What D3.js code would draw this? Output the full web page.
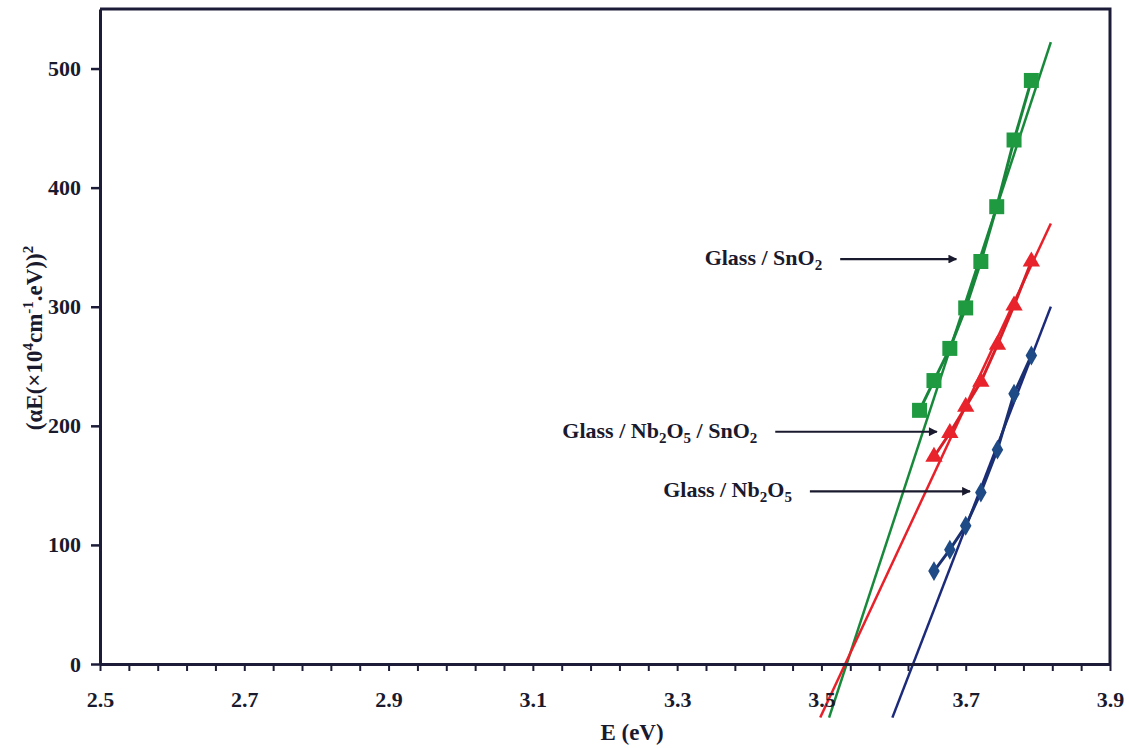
<!DOCTYPE html>
<html>
<head>
<meta charset="utf-8">
<script src="https://cdn.jsdelivr.net/npm/d3@7"></script>
<style>
  body { margin: 0; background: #fff; }
  svg { display: block; }
  text { font-family: "Liberation Serif", "Times New Roman", serif; font-weight: bold; fill: #1a1a2e; }
</style>
</head>
<body>
<svg id="svg" width="1129" height="748"></svg>
<script>
// photon energy (eV) of the measured points
var energySnO2 = [3.636, 3.656, 3.678, 3.700, 3.721, 3.743, 3.767, 3.791];
var energyNb = [3.656, 3.678, 3.700, 3.721, 3.744, 3.767, 3.791];
// (alpha E)^2 values
var glassSnO2 = [213, 238, 265, 299, 338, 384, 440, 490];
var glassNbSnO2 = [174, 194, 216, 237, 268, 301, 338];
var glassNb = [78, 96, 116, 144, 180, 227, 259];

// linear fits: x intercept (band gap) and slope, drawn up to fitEnd
var fitGap = [3.535, 3.533, 3.627];
var fitSlope = [1845, 1298, 1571];
var fitEnd = 3.818;
var fitLow = -45;

var xTicks = [2.5, 2.7, 2.9, 3.1, 3.3, 3.5, 3.7, 3.9];
var yTicks = [0, 100, 200, 300, 400, 500];

// annotations: arrow from startE to tip (E, value)
var notes = [
  { parts: [["Glass / SnO", 0], ["2", 1]], startE: 3.526, tipE: 3.687, val: 340 },
  { parts: [["Glass / Nb", 0], ["2", 1], ["O", 0], ["5", 1], [" / SnO", 0], ["2", 1]], startE: 3.436, tipE: 3.660, val: 195 },
  { parts: [["Glass / Nb", 0], ["2", 1], ["O", 0], ["5", 1]], startE: 3.484, tipE: 3.706, val: 145 }
];

var svg = d3.select("#svg");
var padding = { top: 9, right: 19, bottom: 84, left: 100 };
var W = 1129 - padding.left - padding.right;
var H = 748 - padding.top - padding.bottom;

var xScale = d3.scaleLinear().domain([2.5, 3.9]).range([padding.left, padding.left + W]);
var yScale = d3.scaleLinear().domain([0, 550]).range([padding.top + H, padding.top]);

var axisColor = "#1c1c38";

// fits first, they run under the markers
var fitColors = ["#17893a", "#e8202a", "#1b2a7a"];
var lineFn = d3.line().x(d => xScale(d[0])).y(d => yScale(d[1]));
fitGap.forEach(function (eg, i) {
  var pts = [[eg + fitLow / fitSlope[i], fitLow], [fitEnd, fitSlope[i] * (fitEnd - eg)]];
  svg.append("path")
    .attr("d", lineFn(pts))
    .attr("fill", "none")
    .attr("stroke", fitColors[i])
    .attr("stroke-width", 2.5);
});

// axes
var xMinor = d3.range(0, 36).map(i => +(2.5 + i * 0.04).toFixed(2));
svg.append("g")
  .attr("transform", "translate(0," + (padding.top + H) + ")")
  .call(d3.axisBottom(xScale).tickValues(xMinor).tickSize(7).tickSizeOuter(0)
    .tickFormat(d => xTicks.some(t => Math.abs(t - d) < 1e-6) ? d3.format(".1f")(d) : ""))
  .call(g => g.select(".domain").attr("stroke", axisColor).attr("stroke-width", 3))
  .call(g => g.selectAll(".tick line").attr("stroke", axisColor).attr("stroke-width", 2))
  .call(g => g.selectAll(".tick text").attr("font-size", 22).attr("dy", "0").attr("y", 43)
    .style("font-family", "Liberation Serif, serif").style("font-weight", "bold").attr("fill", "#1a1a2e"));

svg.append("g")
  .attr("transform", "translate(" + padding.left + ",0)")
  .call(d3.axisLeft(yScale).tickValues(yTicks).tickSize(9).tickPadding(10).tickSizeOuter(0))
  .call(g => g.select(".domain").attr("stroke", axisColor).attr("stroke-width", 3))
  .call(g => g.selectAll(".tick line").attr("stroke", axisColor).attr("stroke-width", 2.5))
  .call(g => g.selectAll(".tick text").attr("font-size", 22)
    .style("font-family", "Liberation Serif, serif").style("font-weight", "bold").attr("fill", "#1a1a2e"));

// frame top and right
svg.append("path")
  .attr("d", "M" + padding.left + "," + padding.top + "H" + (padding.left + W) + "V" + (padding.top + H))
  .attr("fill", "none")
  .attr("stroke", axisColor)
  .attr("stroke-width", 3);

// data lines and markers
var series = [
  { x: energySnO2, y: glassSnO2, color: "#1f9a40", line: "#17863a", shape: d3.symbolSquare, size: 225 },
  { x: energyNb, y: glassNbSnO2, color: "#e8232b", line: "#d81f28", shape: d3.symbolTriangle, size: 130 },
  { x: energyNb, y: glassNb, color: "#1e4a85", line: "#1a3070", shape: d3.symbolDiamond, size: 115 }
];

series.forEach(function (s) {
  var pts = s.x.map((e, i) => [e, s.y[i]]);
  svg.append("path")
    .attr("d", lineFn(pts))
    .attr("fill", "none")
    .attr("stroke", s.line)
    .attr("stroke-width", 3);
  svg.append("g").selectAll("path")
    .data(pts)
    .enter()
    .append("path")
    .attr("transform", d => "translate(" + xScale(d[0]) + "," + yScale(d[1]) + ")")
    .attr("d", d3.symbol().type(s.shape).size(s.size))
    .attr("fill", s.color);
});

// annotations with arrows
svg.append("defs").append("marker")
  .attr("id", "head")
  .attr("viewBox", "0 0 10 10")
  .attr("refX", 9).attr("refY", 5)
  .attr("markerWidth", 4.5).attr("markerHeight", 4)
  .attr("markerUnits", "strokeWidth")
  .attr("orient", "auto")
  .append("path")
  .attr("d", "M0,0L10,5L0,10z")
  .attr("fill", "#1a1a2e");

notes.forEach(function (n) {
  var yy = yScale(n.val);
  svg.append("line")
    .attr("x1", xScale(n.startE)).attr("y1", yy)
    .attr("x2", xScale(n.tipE)).attr("y2", yy)
    .attr("stroke", "#1a1a2e")
    .attr("stroke-width", 2.2)
    .attr("marker-end", "url(#head)");
  var t = svg.append("text")
    .attr("x", xScale(n.startE) - 18)
    .attr("y", yy + 6)
    .attr("text-anchor", "end")
    .attr("font-size", 22);
  var shifted = false;
  n.parts.forEach(function (p) {
    var ts = t.append("tspan").text(p[0]);
    if (p[1] && !shifted) { ts.attr("dy", 5).attr("font-size", 15); shifted = true; }
    else if (p[1]) { ts.attr("font-size", 15); }
    else if (shifted) { ts.attr("dy", -5); shifted = false; }
  });
});

// axis titles
svg.append("text")
  .attr("x", 632)
  .attr("y", 740)
  .attr("text-anchor", "middle")
  .attr("font-size", 23)
  .text("E (eV)");

var yl = svg.append("text")
  .attr("transform", "translate(42,338) rotate(-90)")
  .attr("text-anchor", "middle")
  .attr("font-size", 23);
yl.append("tspan").text("(\u03b1E(\u00d710");
yl.append("tspan").attr("dy", -9).attr("font-size", 15).text("4");
yl.append("tspan").attr("dy", 9).text("cm");
yl.append("tspan").attr("dy", -9).attr("font-size", 15).text("-1");
yl.append("tspan").attr("dy", 9).text(".eV))");
yl.append("tspan").attr("dy", -9).attr("font-size", 15).text("2");
</script>
</body>
</html>
